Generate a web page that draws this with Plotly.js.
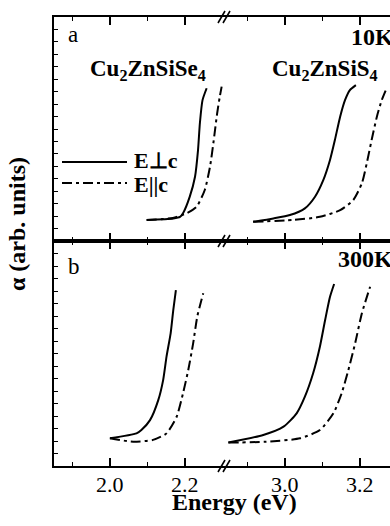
<!DOCTYPE html>
<html>
<head>
<meta charset="utf-8">
<script src="https://cdn.plot.ly/plotly-3.0.1.min.js"></script>
<style>html,body{margin:0;padding:0;background:#fff;}#chart{width:390px;height:526px;}</style>
</head>
<body>
<div id="chart"></div>
<script>
// ---- Data (y in arbitrary units) ----
// Panel a (10 K)
const seA_E_perp = [2.098, 2.169, 2.187, 2.195, 2.213, 2.227, 2.235, 2.240, 2.247, 2.258];
const seA_perp   = [0.094, 0.101, 0.108, 0.124, 0.198, 0.287, 0.406, 0.527, 0.629, 0.682];
const seA_E_par  = [2.098, 2.168, 2.205, 2.231, 2.253, 2.267, 2.277, 2.286, 2.293, 2.298];
const seA_par    = [0.094, 0.103, 0.124, 0.153, 0.228, 0.332, 0.451, 0.570, 0.644, 0.689];
const sA_E_perp  = [2.915, 2.969, 3.013, 3.053, 3.080, 3.102, 3.120, 3.133, 3.147, 3.160, 3.173, 3.189];
const sA_perp    = [0.086, 0.101, 0.116, 0.146, 0.198, 0.272, 0.362, 0.451, 0.555, 0.629, 0.674, 0.696];
const sA_E_par   = [2.915, 3.022, 3.093, 3.147, 3.182, 3.205, 3.218, 3.231, 3.245, 3.258, 3.271];
const sA_par     = [0.086, 0.094, 0.108, 0.138, 0.183, 0.258, 0.347, 0.451, 0.555, 0.629, 0.682];
// Panel b (300 K)
const seB_E_perp = [2.000, 2.071, 2.084, 2.107, 2.129, 2.142, 2.151, 2.162, 2.169, 2.176];
const seB_perp   = [0.123, 0.145, 0.160, 0.204, 0.293, 0.382, 0.486, 0.590, 0.693, 0.782];
const seB_E_par  = [2.000, 2.062, 2.115, 2.151, 2.178, 2.195, 2.209, 2.222, 2.233, 2.249];
const seB_par    = [0.123, 0.108, 0.116, 0.145, 0.219, 0.323, 0.427, 0.545, 0.664, 0.768];
const sB_E_perp  = [2.849, 2.942, 2.996, 3.031, 3.053, 3.075, 3.093, 3.107, 3.120, 3.131];
const sB_perp    = [0.104, 0.138, 0.175, 0.234, 0.308, 0.412, 0.530, 0.649, 0.752, 0.809];
const sB_E_par   = [2.849, 2.951, 3.040, 3.093, 3.129, 3.151, 3.169, 3.187, 3.205, 3.227];
const sB_par     = [0.104, 0.108, 0.123, 0.160, 0.234, 0.323, 0.427, 0.545, 0.679, 0.797];

// Tick labels
const leftTicks  = [2.0, 2.2];
const leftTickText = ["2.0", "2.2"];
const leftMinor  = [1.9, 2.1];
const rightTicks = [3.0, 3.2];
const rightTickText = ["3.0", "3.2"];
const rightMinor = [2.9, 3.1];

const compounds = ["Cu<sub>2</sub>ZnSiSe<sub>4</sub>", "Cu<sub>2</sub>ZnSiS<sub>4</sub>"];
const temps = ["10K", "300K"];
const panelLabels = ["a", "b"];
const legendLabels = ["E\u22A5c", "E||c"];

// ---- Plot ----
const FONT = '"Liberation Serif", serif';
const DASHDOT = "10px,4px,3px,4px";
const LW = 2;

function tr(x, y, xa, ya, dash) {
  return {x: x, y: y, xaxis: xa, yaxis: ya, type: 'scatter', mode: 'lines',
    line: {color: 'black', width: LW, dash: dash, shape: 'spline', smoothing: 0.6},
    hoverinfo: 'skip', showlegend: false};
}

const data = [
  tr(seA_E_perp, seA_perp, 'x3', 'y2', 'solid'),
  tr(seA_E_par,  seA_par,  'x3', 'y2', DASHDOT),
  tr(sA_E_perp,  sA_perp,  'x4', 'y2', 'solid'),
  tr(sA_E_par,   sA_par,   'x4', 'y2', DASHDOT),
  tr(seB_E_perp, seB_perp, 'x',  'y',  'solid'),
  tr(seB_E_par,  seB_par,  'x',  'y',  DASHDOT),
  tr(sB_E_perp,  sB_perp,  'x2', 'y',  'solid'),
  tr(sB_E_par,   sB_par,   'x2', 'y',  DASHDOT)
];

const SPLIT = 0.509;
const YSPLIT = 0.501;
const LEFT_RANGE = [1.851, 2.307];
const RIGHT_RANGE = [2.84, 3.28];

function xax(domain, range, ticks, minor, anchor) {
  return {
    domain: domain, range: range, anchor: anchor,
    showline: true, linewidth: 2, linecolor: 'black',
    mirror: 'ticks',
    ticks: 'inside', ticklen: 8, tickwidth: 1.5, tickcolor: 'black',
    tickmode: 'array', tickvals: ticks,
    showticklabels: false,
    minor: {tickmode: 'array', tickvals: minor, ticks: 'inside', ticklen: 4, tickwidth: 1.5, tickcolor: 'black', showgrid: false},
    showgrid: false, zeroline: false, fixedrange: true
  };
}
function yax(domain, anchor, dtick) {
  return {
    domain: domain, range: [0, 1], anchor: anchor,
    showline: true, linewidth: 2, linecolor: 'black',
    ticks: 'inside', ticklen: 4, tickwidth: 1, tickcolor: 'black',
    tick0: 0, dtick: dtick, showticklabels: false,
    showgrid: false, zeroline: false, fixedrange: true
  };
}

const px = v => (v - 54) / 336;
const py = v => (466 - v) / 449;

const ann = [];
function text(t, x, y, opts) {
  ann.push(Object.assign({text: t, x: x, y: y, xref: 'paper', yref: 'paper', showarrow: false,
    xanchor: 'left', yanchor: 'middle',
    font: {family: FONT, size: 22, color: 'black'}}, opts || {}));
}
// x tick labels placed through the x scales
leftTicks.forEach(function (v, i) {
  text(leftTickText[i], v, py(485), {xref: 'x', xanchor: 'center'});
});
rightTicks.forEach(function (v, i) {
  text(rightTickText[i], v, py(485), {xref: 'x2', xanchor: 'center'});
});
text(panelLabels[0], px(66), py(34), {font: {family: FONT, size: 23, color: 'black'}});
text(panelLabels[1], px(66), py(266), {font: {family: FONT, size: 23, color: 'black'}});
text("<b>" + temps[0] + "</b>", px(349), py(37), {font: {family: FONT, size: 24, color: 'black'}});
text("<b>" + temps[1] + "</b>", px(336), py(259), {font: {family: FONT, size: 24, color: 'black'}});
text("<b>" + compounds[0] + "</b>", px(88), py(70), {font: {family: FONT, size: 23, color: 'black'}});
text("<b>" + compounds[1] + "</b>", px(270), py(70), {font: {family: FONT, size: 23, color: 'black'}});
text("<b>" + legendLabels[0] + "</b>", px(132), py(161), {font: {family: FONT, size: 22, color: 'black'}});
text("<b>" + legendLabels[1] + "</b>", px(132), py(184), {font: {family: FONT, size: 22, color: 'black'}});
text("<b>Energy (eV)</b>", px(234), py(502), {xanchor: 'center', font: {family: FONT, size: 24, color: 'black'}});
text("<b>\u03B1 (arb. units)</b>", -0.11, py(224), {xanchor: 'center', textangle: -90, font: {family: FONT, size: 24, color: 'black'}});

const shapes = [
  {type: 'line', xref: 'paper', yref: 'paper', x0: px(62), x1: px(127), y0: py(162), y1: py(162), line: {color: 'black', width: LW}},
  {type: 'line', xref: 'paper', yref: 'paper', x0: px(62), x1: px(127), y0: py(183), y1: py(183), line: {color: 'black', width: LW, dash: DASHDOT}}
];
[17, 241, 466].forEach(function (yy) {
  [218, 223].forEach(function (xx) {
    shapes.push({type: 'line', xref: 'paper', yref: 'paper',
      x0: px(xx), y0: py(yy + 6), x1: px(xx + 7), y1: py(yy - 6),
      line: {color: 'black', width: 1.6}});
  });
});

const layout = {
  width: 390, height: 526,
  margin: {l: 54, r: 0, t: 17, b: 60, pad: 0},
  paper_bgcolor: 'white', plot_bgcolor: 'white',
  showlegend: false,
  font: {family: FONT, color: 'black'},
  xaxis:  xax([0, SPLIT], LEFT_RANGE, leftTicks, leftMinor, 'y'),
  xaxis2: xax([SPLIT, 1], RIGHT_RANGE, rightTicks, rightMinor, 'y'),
  xaxis3: xax([0, SPLIT], LEFT_RANGE, leftTicks, leftMinor, 'y2'),
  xaxis4: xax([SPLIT, 1], RIGHT_RANGE, rightTicks, rightMinor, 'y2'),
  yaxis:  yax([0, YSPLIT], 'x', 1 / 18),
  yaxis2: yax([YSPLIT, 1], 'x3', 1 / 18),
  annotations: ann,
  shapes: shapes
};

Plotly.newPlot('chart', data, layout, {staticPlot: true, displayModeBar: false});
</script>
</body>
</html>
